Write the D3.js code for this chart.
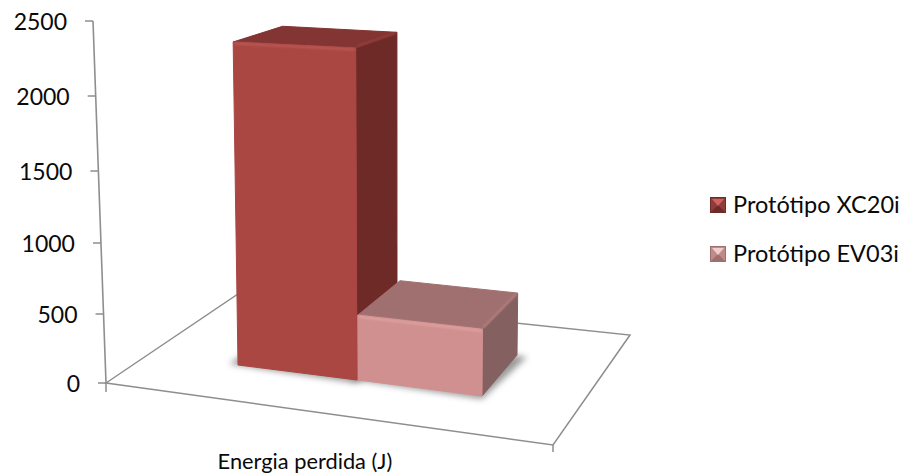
<!DOCTYPE html>
<html>
<head>
<meta charset="utf-8">
<script src="https://cdn.jsdelivr.net/npm/d3@7/dist/d3.min.js"></script>
<style>
html,body{margin:0;padding:0;background:#fff}
svg{display:block}
text{font-family:Lato,"Open Sans",sans-serif;fill:#0a0a0a}
</style>
</head>
<body>
<svg id="chart" width="907" height="475"></svg>
<script>
// Chart content
const categories = ["Energia perdida (J)"];
const seriesNames = ["Protótipo XC20i", "Protótipo EV03i"];
const seriesValues = [2300, 470];
const tickValues = [0, 500, 1000, 1500, 2000, 2500];

// Appearance of each series: front, side, top, highlight
const palette = [
  {front: "#aa4643", side: "#6e2a28", top: "#823432", glow: "#bd5c58", rim: "#9a4340"},
  {front: "#d09090", side: "#856060", top: "#a07070", glow: "#e2a3a3", rim: "#bb8585"}
];

// Footprint of each box on the floor plane, in drawing order
const footprints = [
  {fl: [238, 365], fr: [357, 380], br: [397, 341], bl: [286, 326]},
  {fl: [358, 380], fr: [482, 396], br: [517, 355], bl: [400, 341]}
];

const svg = d3.select("#chart");
const defs = svg.append("defs");
defs.append("filter").attr("id", "soft").attr("x", "-5%").attr("y", "-5%").attr("width", "110%").attr("height", "110%")
  .append("feGaussianBlur").attr("stdDeviation", 0.45);
defs.append("filter").attr("id", "shadow").attr("x", "-20%").attr("y", "-20%").attr("width", "140%").attr("height", "140%")
  .append("feGaussianBlur").attr("stdDeviation", 3);
defs.append("filter").attr("id", "sheen").attr("filterUnits", "userSpaceOnUse")
  .attr("x", 0).attr("y", 0).attr("width", 907).attr("height", 475)
  .append("feGaussianBlur").attr("stdDeviation", 0.9);

// The vertical axis is slightly foreshortened, hence the uneven tick spacing
const y = d3.scaleLinear().domain(tickValues).range([383, 314, 243, 171, 96, 21]);
const axisX = d3.scaleLinear().domain([383, 21]).range([106, 93]);
const lift = v => y(0) - y(v);

// Moves a floor point upwards by a value, with perspective depending on depth
function raise(p, v) {
  const h = lift(v);
  const k = 1 + (p[1] - 380) * 0.0018;
  const lean = (p[0] - 400) * 0.00009;
  return [p[0] + lean * h, p[1] - k * h];
}
const poly = pts => pts.map(p => p.join(",")).join(" ");

const lineColor = "#8e8e8e";

// Floor
const floor = svg.append("g").attr("filter", "url(#soft)");
floor.append("polygon")
  .attr("points", poly([[106, 383], [238, 294], [630, 335], [553, 445]]))
  .attr("fill", "none").attr("stroke", lineColor).attr("stroke-width", 1.5);
floor.append("line").attr("x1", 553).attr("y1", 445).attr("x2", 553).attr("y2", 452)
  .attr("stroke", lineColor).attr("stroke-width", 1.5);
floor.append("line").attr("x1", 106).attr("y1", 383).attr("x2", 106).attr("y2", 392)
  .attr("stroke", lineColor).attr("stroke-width", 1.5);

// Value axis
const axis = svg.append("g").attr("filter", "url(#soft)");
axis.append("line")
  .attr("x1", axisX(y(0))).attr("y1", y(0))
  .attr("x2", axisX(y(2500))).attr("y2", y(2500))
  .attr("stroke", lineColor).attr("stroke-width", 1.6);
axis.selectAll("line.tick").data(tickValues).join("line")
  .attr("class", "tick")
  .attr("x1", d => axisX(y(d)) - 8).attr("x2", d => axisX(y(d)))
  .attr("y1", d => y(d)).attr("y2", d => y(d))
  .attr("stroke", lineColor).attr("stroke-width", 1.5);

svg.selectAll("text.ytick").data(tickValues).join("text")
  .attr("class", "ytick")
  .attr("x", d => axisX(y(d)) - 26)
  .attr("y", d => y(d) + 1)
  .attr("dy", "0.36em")
  .attr("text-anchor", "end")
  .attr("font-size", 23)
  .text(d => d);

// Soft shadows on the floor
svg.append("g").selectAll("polygon").data(footprints).join("polygon")
  .attr("points", f => poly([
    [f.fl[0] - 9, f.fl[1] - 1], [f.fr[0], f.fr[1] + 3], [f.br[0] + 10, f.br[1] + 2], [f.bl[0], f.bl[1]]
  ]))
  .attr("fill", "#777").attr("opacity", 0.75).attr("filter", "url(#shadow)");

// Boxes, with slightly rounded silhouettes and bevelled edges
const boxes = svg.selectAll("g.box").data(seriesValues).join("g")
  .attr("class", "box").attr("filter", "url(#soft)");
boxes.each(function (v, i) {
  const f = footprints[i], c = palette[i], g = d3.select(this);
  const fl = raise(f.fl, v), fr = raise(f.fr, v), br = raise(f.br, v), bl = raise(f.bl, v);
  const face = (pts, fill) => g.append("polygon").attr("points", poly(pts))
    .attr("fill", fill).attr("stroke", fill).attr("stroke-width", 1).attr("stroke-linejoin", "round");
  face([fr, br, f.br, f.fr], c.side);
  face([fl, bl, br, fr], c.top);
  face([fl, fr, f.fr, f.fl], c.front);
  const bevel = (a, b, color, width) => g.append("line")
    .attr("x1", a[0]).attr("y1", a[1]).attr("x2", b[0]).attr("y2", b[1])
    .attr("stroke", color).attr("stroke-width", width).attr("filter", "url(#sheen)");
  bevel([fl[0] + 1, fl[1] + 1.5], [fr[0] - 1, fr[1] + 1.5], c.glow, 2);
  bevel([fr[0] + 1, fr[1] - 2], [br[0] - 1, br[1] + 1], c.rim, 1.5);
});

// Category label
svg.selectAll("text.cat").data(categories).join("text")
  .attr("class", "cat")
  .attr("x", 305).attr("y", 461).attr("dy", "0.36em")
  .attr("text-anchor", "middle").attr("font-size", 21.8)
  .text(d => d);

// Legend with bevelled swatches
const swatchTones = [
  {t: "#d0625e", s: "#8f3c3a", b: "#6e2a28", e: "#702c2a"},
  {t: "#f0cccc", s: "#c08a8a", b: "#a06e6e", e: "#9c7070"}
];
const legend = svg.selectAll("g.legend").data(seriesNames).join("g")
  .attr("class", "legend")
  .attr("transform", (d, i) => `translate(710,${d3.scaleLinear([0, 1], [197, 246])(i)})`);
legend.each(function (d, i) {
  const g = d3.select(this), s = swatchTones[i], w = 16;
  const marker = g.append("g").attr("filter", "url(#soft)");
  marker.append("rect").attr("width", w).attr("height", w).attr("fill", s.s);
  marker.append("polygon").attr("points", poly([[0, w], [w, w], [w / 2, w / 2]])).attr("fill", s.b);
  marker.append("polygon").attr("points", poly([[2, 2], [w - 2, 2], [w / 2, w / 2 + 1]])).attr("fill", s.t);
  marker.append("rect").attr("x", 0.5).attr("y", 0.5).attr("width", w - 1).attr("height", w - 1)
    .attr("fill", "none").attr("stroke", s.e);
  g.append("text").attr("x", 23).attr("y", 8).attr("dy", "0.36em")
    .attr("font-size", 23.5).text(d);
});
</script>
</body>
</html>
